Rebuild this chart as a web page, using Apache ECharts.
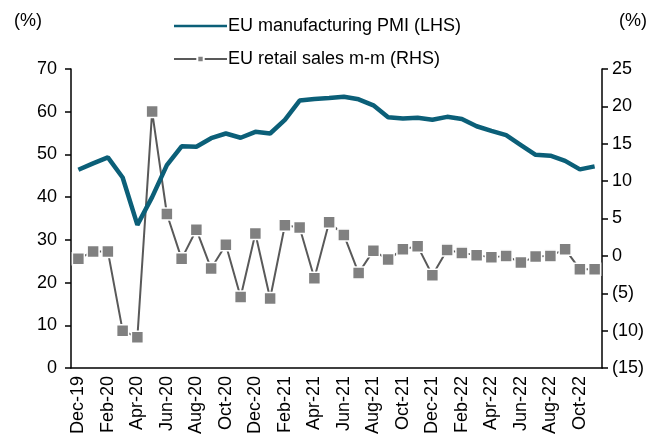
<!DOCTYPE html>
<html>
<head>
<meta charset="utf-8">
<script src="https://cdn.jsdelivr.net/npm/echarts@6/dist/echarts.min.js"></script>
<style>
  html, body { margin: 0; padding: 0; background: #fff; }
  #main { width: 665px; height: 443px; }
</style>
</head>
<body>
<div id="main"></div>
<script>
// months Dec-19 .. Nov-22
var months = ['Dec-19','Jan-20','Feb-20','Mar-20','Apr-20','May-20','Jun-20','Jul-20','Aug-20','Sep-20','Oct-20','Nov-20',
  'Dec-20','Jan-21','Feb-21','Mar-21','Apr-21','May-21','Jun-21','Jul-21','Aug-21','Sep-21','Oct-21','Nov-21',
  'Dec-21','Jan-22','Feb-22','Mar-22','Apr-22','May-22','Jun-22','Jul-22','Aug-22','Sep-22','Oct-22','Nov-22'];

// EU manufacturing PMI (LHS)
var pmi = [46.4, 47.9, 49.3, 44.6, 33.5, 40.0, 47.5, 51.9, 51.8, 53.8, 54.9, 53.9,
  55.3, 54.9, 58.1, 62.6, 63.0, 63.2, 63.5, 62.9, 61.5, 58.7, 58.4, 58.6,
  58.1, 58.8, 58.3, 56.6, 55.5, 54.5, 52.2, 49.9, 49.7, 48.5, 46.5, 47.2];

// EU retail sales m-m (RHS)
var retail = [-0.4, 0.6, 0.6, -10.0, -10.9, 19.3, 5.6, -0.4, 3.5, -1.7, 1.5, -5.5,
  3.0, -5.7, 4.1, 3.8, -3.0, 4.5, 2.8, -2.3, 0.7, -0.5, 0.9, 1.3,
  -2.6, 0.8, 0.4, 0.1, -0.2, 0.0, -0.9, -0.1, 0.0, 0.9, -1.8, -1.8];

var chart = echarts.init(document.getElementById('main'));

var option = {
  animation: false,
  textStyle: { fontFamily: 'Arial, "Liberation Sans", sans-serif', color: '#000' },
  graphic: [
    { type: 'text', left: 14, top: 12, style: { text: '(%)', fontSize: 18, fill: '#000', fontFamily: 'Arial, "Liberation Sans", sans-serif' } },
    { type: 'text', left: 619, top: 12, style: { text: '(%)', fontSize: 18, fill: '#000', fontFamily: 'Arial, "Liberation Sans", sans-serif' } }
  ],
  legend: {
    orient: 'vertical',
    left: 168,
    top: 12,
    itemWidth: 53,
    itemHeight: 8,
    itemGap: 15,
    textStyle: { fontSize: 18, color: '#000', padding: [0, 0, 0, -4] },
    data: [
      { name: 'EU manufacturing PMI (LHS)', icon: 'path://M0,0h20v1h-20z' },
      'EU retail sales m-m (RHS)'
    ]
  },
  grid: { left: 71, right: 63, top: 69, bottom: 75 },
  xAxis: {
    type: 'category',
    data: months,
    boundaryGap: true,
    axisLine: { lineStyle: { color: '#000', width: 1.5 } },
    axisTick: { interval: 1, length: 6, inside: false, lineStyle: { color: '#000', width: 1.5 } },
    axisLabel: { interval: 1, rotate: 90, fontSize: 18, color: '#000', margin: 8 }
  },
  yAxis: [
    {
      type: 'value', min: 0, max: 70, interval: 10,
      splitLine: { show: false },
      axisLine: { show: true, lineStyle: { color: '#000', width: 1.5 } },
      axisTick: { show: true, length: 6, lineStyle: { color: '#000', width: 1.5 } },
      axisLabel: { fontSize: 18, color: '#000', margin: 14 }
    },
    {
      type: 'value', min: -15, max: 25, interval: 5,
      splitLine: { show: false },
      axisLine: { show: true, lineStyle: { color: '#000', width: 1.5 } },
      axisTick: { show: true, length: 6, lineStyle: { color: '#000', width: 1.5 } },
      axisLabel: {
        fontSize: 18, color: '#000', margin: 10,
        formatter: function (v) { return v < 0 ? '(' + (-v) + ')' : '' + v; }
      }
    }
  ],
  series: [
    {
      name: 'EU retail sales m-m (RHS)',
      type: 'line',
      yAxisIndex: 1,
      data: retail,
      symbol: 'rect',
      symbolSize: 12,
      showAllSymbol: true,
      z: 2,
      lineStyle: { color: '#595959', width: 2 },
      itemStyle: { color: '#808080', borderColor: '#fff', borderWidth: 1.5 }
    },
    {
      name: 'EU manufacturing PMI (LHS)',
      type: 'line',
      yAxisIndex: 0,
      data: pmi,
      symbol: 'none',
      z: 3,
      lineStyle: { color: '#0b5f78', width: 4.5 },
      itemStyle: { color: '#0b5f78' }
    }
  ]
};

chart.setOption(option);
</script>
</body>
</html>
